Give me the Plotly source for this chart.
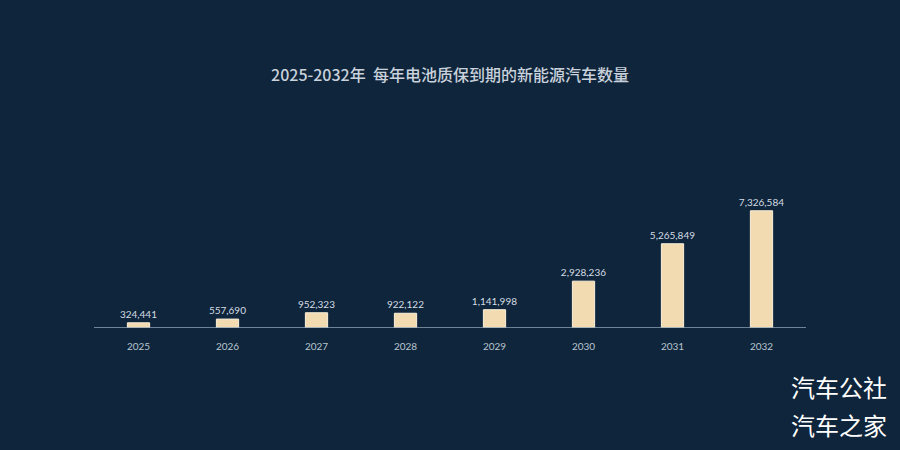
import plotly.graph_objects as go

years = ["2025", "2026", "2027", "2028", "2029", "2030", "2031", "2032"]
counts = [324441, 557690, 952323, 922122, 1141998, 2928236, 5265849, 7326584]
labels = [f"{v:,}" for v in counts]

bg = "#0f253b"
fig = go.Figure(go.Bar(
    x=years, y=counts, text=labels, textposition="outside",
    cliponaxis=False, constraintext="none",
    textfont=dict(family="Lato, Noto Sans", size=10, color="#d5dde5"),
    marker=dict(color="#f2dbb0", line=dict(color="#fbf1dc", width=1)),
    width=0.25, hoverinfo="skip",
))
fig.update_layout(
    width=900, height=450, paper_bgcolor=bg, plot_bgcolor=bg,
    margin=dict(l=94, r=94, t=184, b=122),
    showlegend=False,
    title=dict(text="2025-2032年  每年电池质保到期的新能源汽车数量", x=0.5, xanchor="center",
               y=1 - 75/450, yanchor="middle",
               font=dict(family="Noto Sans CJK SC", size=16, color="#c9d2db", weight=500)),
    xaxis=dict(showgrid=False, showline=False, ticks="outside", ticklen=9, tickcolor=bg,
               zeroline=False,
               tickfont=dict(family="Lato, Noto Sans", size=10, color="#b9c5d0"),
               range=[-0.5, 7.5]),
    yaxis=dict(range=[0, 9000000], visible=False, showgrid=False, zeroline=False),
    shapes=[dict(type="line", xref="paper", yref="y", x0=0, x1=1, y0=0, y1=0,
                 line=dict(color="#8fa3b6", width=1.5))],
    annotations=[
        dict(text="汽车公社", xref="paper", yref="paper", x=(889-94)/712, y=(328-386)/144,
             xanchor="right", yanchor="middle", showarrow=False,
             font=dict(family="Noto Sans CJK SC", size=24, color="#ffffff")),
        dict(text="汽车之家", xref="paper", yref="paper", x=(889-94)/712, y=(328-424)/144,
             xanchor="right", yanchor="middle", showarrow=False,
             font=dict(family="Noto Sans CJK SC", size=24, color="#ffffff")),
    ],
)
fig.write_html("out.html", config={"displayModeBar": False},
               post_script="document.body.style.margin='0';document.body.style.background='%s';" % bg)
